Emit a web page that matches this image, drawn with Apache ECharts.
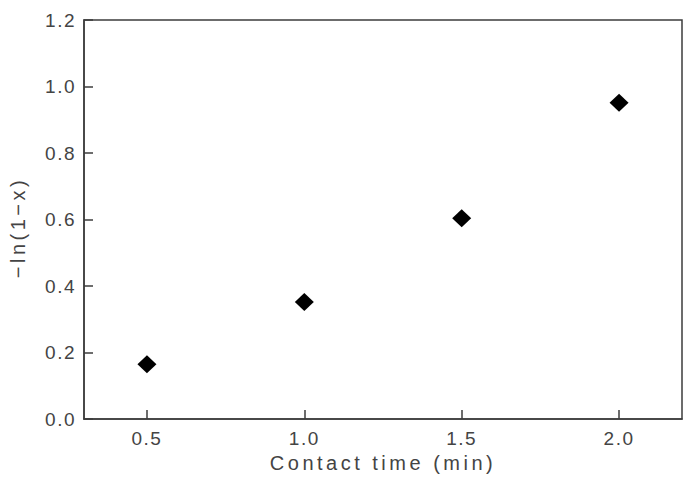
<!DOCTYPE html>
<html>
<head>
<meta charset="utf-8">
<script src="https://cdn.jsdelivr.net/npm/echarts@6.0.0/dist/echarts.min.js"></script>
<style>
  html, body { margin: 0; padding: 0; background: #fff; }
  #chart { width: 692px; height: 486px; }
  /* the original figure uses widely spaced lettering */
  #chart svg text { letter-spacing: 1.5px; }
</style>
</head>
<body>
<div id="chart"></div>
<script>
// contact time (min) and -ln(1-x)
var contactTime = [0.5, 1.0, 1.5, 2.0];
var lnValues = [0.165, 0.352, 0.604, 0.951];
var xTicks = [0.5, 1.0, 1.5, 2.0];

var points = contactTime.map(function (t, i) { return [t, lnValues[i]]; });

var chart = echarts.init(document.getElementById('chart'), null, { renderer: 'svg' });
var axisColor = '#3c3c3c';
var textColor = '#444';

var option = {
  backgroundColor: '#fff',
  animation: false,
  grid: {
    left: 81, top: 20, right: 10, bottom: 67,
    show: true, borderColor: axisColor, borderWidth: 1.5
  },
  xAxis: {
    type: 'value',
    min: 0.3, max: 2.2,
    name: 'Contact time (min)',
    nameLocation: 'middle',
    nameGap: 34,
    nameTextStyle: { fontFamily: 'Liberation Sans', fontSize: 20, color: textColor },
    axisLine: { lineStyle: { color: axisColor, width: 1.5 } },
    axisTick: { inside: true, length: 9, customValues: xTicks, lineStyle: { color: axisColor, width: 1.5 } },
    axisLabel: {
      customValues: xTicks, margin: 10,
      fontFamily: 'Liberation Sans', fontSize: 19, color: textColor,
      formatter: function (v) { return v.toFixed(1); }
    },
    splitLine: { show: false }
  },
  yAxis: {
    type: 'value',
    min: 0, max: 1.2, interval: 0.2,
    name: '\u2212ln(1\u2212x)',
    nameLocation: 'middle',
    nameGap: 56,
    nameTextStyle: { fontFamily: 'Liberation Sans', fontSize: 20, color: textColor, padding: [0, 16, 0, 0] },
    axisLine: { show: true, lineStyle: { color: axisColor, width: 1.5 } },
    axisTick: { show: true, inside: true, length: 9, lineStyle: { color: axisColor, width: 1.5 } },
    axisLabel: {
      margin: 8,
      fontFamily: 'Liberation Sans', fontSize: 19, color: textColor,
      formatter: function (v) { return v.toFixed(1); }
    },
    splitLine: { show: false }
  },
  series: [{
    type: 'scatter',
    data: points,
    symbol: 'diamond',
    symbolSize: [19, 18],
    itemStyle: { color: '#000', opacity: 1 }
  }]
};

chart.setOption(option);

// axis titles are spaced out more than the tick labels
var names = document.querySelectorAll('#chart svg text');
names.forEach(function (t) {
  var s = t.textContent;
  if (s.indexOf('Contact') === 0 || s.indexOf('ln') >= 0) t.style.letterSpacing = '3.5px';
});
</script>
</body>
</html>
